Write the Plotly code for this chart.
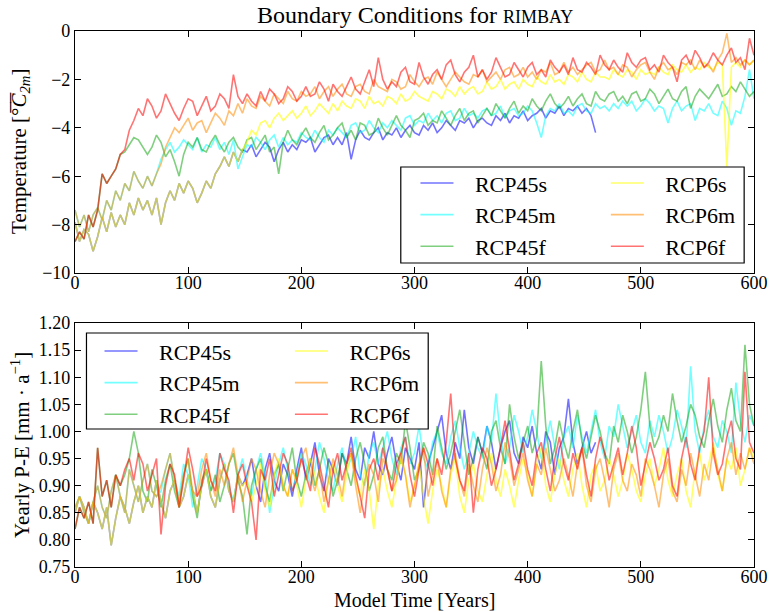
import plotly.graph_objects as go

STEP = 4  # years between stored samples

# ---------------- 2 m temperature (deg C) ----------------
# shared spin-up of the fast runs, years 0..40
t_spin_f = [-8.7, -8.3, -8.6, -7.6, -8.1, -7.4, -5.9, -6.3, -6.0, -5.7, -5.1]
# fast runs, years 44..600
t_6f_branch = [
    -4.9, -4.1, -3.7, -3.2, -3.5, -2.8, -3.1, -3.6, -3.3, -2.6,
    -3.0, -3.4, -3.7, -3.2, -2.8, -2.9, -3.5, -3.1, -2.7, -3.3,
    -3.1, -2.6, -2.8, -3.2, -1.8, -2.7, -3.0, -2.6, -2.9, -3.1,
    -2.5, -2.9, -2.4, -2.6, -3.0, -2.8, -2.3, -2.5, -2.9, -2.7,
    -2.3, -2.7, -2.6, -2.1, -2.4, -2.9, -2.2, -2.5, -2.7, -2.3,
    -1.9, -2.4, -2.6, -2.1, -1.6, -2.3, -1.1, -2.0, -2.4, -2.1,
    -2.3, -1.7, -1.5, -2.1, -2.2, -1.3, -1.9, -2.2, -1.8, -1.6,
    -2.0, -1.4, -1.2, -1.8, -2.1, -1.7, -1.5, -1.0, -1.9, -1.6,
    -2.0, -1.7, -1.1, -1.5, -1.9, -1.8, -1.3, -1.6, -1.9, -1.5,
    -1.3, -1.8, -1.6, -1.9, -1.2, -1.5, -1.7, -1.4, -1.8, -1.1,
    -1.6, -1.7, -1.3, -1.5, -1.8, -1.0, -1.4, -1.6, -1.2, -1.5,
    -1.7, -0.9, -1.3, -1.5, -1.2, -1.1, -1.6, -1.4, -1.7, -1.0,
    -1.3, -1.5, -2.1, -1.2, -1.0, -1.4, -0.8, -1.1, -1.5, -1.3,
    -0.9, -1.2, -1.4, -1.0, -0.7, -1.3, -1.1, -1.6, -0.3, -1.0,
]
t_45f_branch = [
    -5.0, -4.7, -4.4, -4.5, -4.8, -5.1, -4.8, -4.3, -4.6, -5.2,
    -4.9, -5.4, -6.0, -5.1, -4.6, -4.8, -4.4, -4.9, -5.0, -4.6,
    -4.3, -4.7, -5.0, -4.6, -4.4, -4.8, -5.0, -4.5, -4.4, -4.9,
    -4.6, -4.3, -5.0, -4.8, -5.9, -4.6, -4.1, -4.5, -4.7, -4.3,
    -4.0, -4.4, -4.6, -4.2, -3.9, -4.5, -4.3, -4.0, -3.8, -4.4,
    -4.1, -4.5, -3.8, -3.9, -4.3, -4.2, -3.6, -4.0, -4.3, -3.9,
    -3.5, -3.9, -4.1, -4.4, -3.7, -3.6, -3.4, -3.9, -3.7, -3.8,
    -3.3, -3.6, -3.9, -3.5, -3.2, -3.7, -3.4, -3.3, -3.8, -3.5,
    -3.2, -3.5, -3.0, -3.3, -3.6, -3.2, -2.9, -3.4, -3.1, -3.3,
    -2.8, -3.1, -3.3, -2.9, -2.6, -3.0, -3.2, -3.0, -2.7, -3.1,
    -2.8, -2.6, -3.0, -3.1, -2.5, -2.8, -2.9, -2.6, -2.5, -2.9,
    -2.7, -3.0, -2.6, -2.5, -2.9, -2.8, -2.4, -2.6, -3.0, -2.7,
    -2.4, -2.8, -2.9, -2.5, -2.3, -3.2, -2.7, -2.4, -2.6, -2.8,
    -2.5, -2.2, -2.7, -2.6, -2.3, -2.5, -2.1, -2.4, -2.7, -2.5,
]
# shared spin-up of the medium runs, years 0..72
t_spin_m = [-7.4, -8.1, -7.6, -8.3, -7.6, -7.3, -7.8, -7.0, -7.4, -6.6,
            -7.0, -6.3, -6.6, -5.8, -6.2, -6.5, -6.0, -6.4, -5.9]
# medium runs, years 76..600
t_6m_branch = [
    -5.5, -4.8, -4.4, -4.0, -4.2, -3.9, -3.6, -4.1, -3.8, -3.7,
    -4.2, -3.8, -3.4, -3.6, -3.9, -3.3, -3.5, -3.0, -3.4, -2.8,
    -3.1, -3.2, -2.7, -2.9, -3.1, -2.6, -2.8, -3.0, -2.5, -2.8,
    -2.9, -2.5, -2.7, -2.6, -2.3, -2.8, -2.5, -2.3, -2.7, -2.4,
    -2.2, -2.6, -2.7, -2.3, -2.2, -2.5, -2.6, -2.0, -2.3, -2.4,
    -2.5, -2.0, -2.1, -2.4, -2.3, -1.8, -2.1, -2.3, -2.0, -1.9,
    -2.2, -1.7, -2.0, -2.3, -2.0, -1.7, -1.9, -2.1, -2.2, -1.8,
    -1.9, -1.6, -2.1, -1.9, -1.7, -2.0, -1.6, -1.5, -1.9, -1.8,
    -1.5, -1.9, -1.7, -2.0, -1.6, -1.7, -1.3, -1.8, -1.7, -1.3,
    -1.7, -1.5, -1.8, -1.6, -1.4, -1.3, -1.7, -1.6, -1.2, -1.6,
    -1.5, -1.8, -1.4, -1.5, -1.9, -1.6, -1.4, -1.3, -1.7, -2.0,
    -1.5, -1.3, -1.6, -1.5, -1.8, -1.3, -1.4, -1.2, -1.6, -1.2,
    -1.5, -1.4, -1.7, -1.2, -0.9, -0.1, -1.3, -1.1, -1.4, -1.2,
    -1.4, -1.2,
]
t_45m_branch = [
    -5.3, -4.9, -4.6, -5.0, -4.8, -4.5, -4.7, -4.9, -4.4, -5.0,
    -4.7, -4.8, -4.4, -4.9, -4.6, -5.1, -4.5, -5.7, -5.2, -4.7,
    -4.8, -4.4, -4.6, -4.9, -4.5, -4.3, -4.8, -4.4, -4.7, -4.5,
    -4.6, -4.2, -4.4, -4.5, -4.1, -4.4, -4.6, -4.1, -4.3, -4.0,
    -4.2, -4.4, -3.9, -3.8, -4.2, -4.1, -3.7, -4.0, -4.2, -3.8,
    -4.0, -3.7, -3.9, -4.1, -3.6, -3.5, -3.9, -3.7, -3.8, -3.4,
    -3.7, -3.5, -3.8, -3.4, -3.3, -3.7, -3.6, -3.2, -3.5, -3.4,
    -3.6, -3.3, -3.2, -3.5, -3.4, -3.1, -3.6, -3.3, -3.2, -3.5,
    -3.4, -3.1, -3.3, -3.8, -4.4, -3.5, -3.2, -3.3, -3.0, -3.4,
    -3.3, -3.5, -3.1, -3.0, -3.3, -3.4, -3.0, -3.2, -3.1, -3.3,
    -3.0, -3.2, -2.9, -3.1, -2.9, -3.3, -3.1, -2.8, -3.0, -3.3,
    -3.1, -3.2, -3.8, -3.2, -2.9, -3.3, -3.1, -3.0, -3.7, -3.2,
    -3.3, -3.0, -3.4, -3.5, -2.9, -3.2, -3.9, -3.3, -3.4, -2.7,
    -1.6, -2.8,
]
# shared spin-up of the slow runs, years 0..148
t_spin_s = [
    -7.9, -8.7, -8.2, -8.4, -9.1, -8.5, -7.7, -8.3, -7.5, -8.1,
    -7.6, -8.0, -7.1, -7.6, -6.9, -7.4, -7.0, -7.6, -6.9, -8.0,
    -7.1, -6.6, -7.0, -6.3, -6.7, -6.2, -6.5, -7.1, -6.7, -6.2,
    -6.5, -5.9, -5.6, -5.2, -5.6, -5.0, -5.4, -4.9,
]
# slow RCP6 run, years 152..600
t_6s_branch = [
    -4.6, -4.1, -4.3, -3.8, -3.7, -4.0, -3.6, -3.4, -3.7, -3.5,
    -3.3, -3.6, -3.4, -3.1, -3.5, -3.3, -3.0, -3.2, -3.4, -3.0,
    -3.3, -2.9, -3.1, -3.2, -2.8, -2.9, -3.2, -2.7, -3.0, -2.9,
    -3.1, -2.7, -2.8, -3.0, -2.6, -2.9, -2.8, -2.5, -2.7, -2.8,
    -2.9, -2.5, -2.6, -2.8, -2.4, -2.5, -2.7, -2.3, -2.6, -2.4,
    -2.3, -2.6, -2.5, -2.1, -2.4, -2.3, -2.0, -2.4, -2.2, -2.1,
    -2.4, -2.0, -2.2, -2.3, -1.9, -2.1, -2.2, -1.8, -2.1, -2.0,
    -2.2, -1.8, -1.9, -2.1, -1.7, -2.0, -2.1, -1.7, -1.9, -1.9,
    -2.0, -1.6, -1.8, -1.9, -1.6, -1.7, -2.0, -1.6, -1.8, -1.7,
    -1.8, -1.5, -1.7, -1.8, -1.4, -1.6, -1.7, -1.4, -1.7, -1.5,
    -1.6, -1.3, -1.5, -1.6, -1.3, -1.4, -5.6, -1.5, -1.3, -1.5,
    -1.2, -1.4, -1.2,
]
# slow RCP4.5 run, years 152..460
t_45s_branch = [
    -5.0, -4.7, -5.2, -4.9, -4.6, -4.8, -5.4, -4.9, -4.6, -5.0,
    -4.7, -4.9, -4.5, -4.6, -4.4, -5.0, -4.7, -4.4, -4.3, -4.7,
    -4.4, -4.7, -4.2, -5.3, -4.5, -4.1, -4.4, -4.5, -4.2, -4.0,
    -4.5, -4.2, -4.3, -4.0, -4.4, -4.1, -3.9, -4.2, -4.3, -3.9,
    -4.1, -3.8, -4.2, -4.0, -3.7, -3.9, -4.1, -3.7, -3.8, -3.6,
    -4.0, -3.7, -3.6, -3.8, -3.9, -3.5, -3.7, -3.4, -3.8, -3.5,
    -3.6, -3.3, -3.7, -3.5, -3.4, -3.2, -3.6, -3.3, -3.4, -3.1,
    -3.5, -3.2, -3.3, -3.1, -3.4, -3.2, -3.5, -4.2,
]

# ---------------- yearly precipitation minus evaporation (mm/a) ----------------
pe_spin_f = [0.82, 0.86, 0.84, 0.87, 0.83, 0.97, 0.88, 0.91, 0.86, 0.92, 0.90]
pe_6f_branch = [
    0.93, 0.95, 0.91, 0.96, 0.94, 0.89, 0.92, 0.95, 0.81, 0.90,
    0.94, 0.92, 0.86, 0.91, 0.97, 0.93, 0.88, 0.90, 0.95, 0.91,
    0.89, 0.96, 0.93, 0.91, 0.85, 0.92, 0.94, 0.90, 0.87, 0.80,
    0.93, 0.91, 0.95, 0.88, 0.92, 0.96, 0.94, 0.89, 0.91, 0.95,
    0.92, 0.89, 0.97, 0.94, 0.90, 0.86, 0.93, 0.96, 0.91, 0.94,
    0.97, 0.92, 0.88, 0.84, 0.93, 0.95, 0.91, 0.97, 0.93, 0.89,
    0.94, 0.96, 0.99, 0.92, 0.88, 0.93, 0.97, 0.94, 0.90, 0.95,
    0.92, 0.98, 1.07, 0.95, 0.91, 0.89, 0.96, 0.85, 0.93, 0.97,
    0.95, 0.90, 0.93, 0.97, 1.02, 0.96, 0.91, 0.94, 0.98, 0.93,
    0.90, 0.96, 0.98, 0.93, 0.89, 0.95, 0.99, 0.94, 0.91, 0.96,
    0.93, 0.97, 0.92, 0.88, 0.95, 0.99, 0.96, 0.91, 0.94, 0.97,
    0.92, 0.96, 1.01, 0.97, 0.90, 0.94, 0.98, 0.95, 0.91, 0.93,
    0.97, 0.90, 0.88, 0.95, 0.99, 0.94, 0.91, 0.97, 1.00, 1.10,
    0.96, 0.92, 0.94, 0.99, 1.02, 0.95, 0.93, 1.11, 0.98, 0.96,
]
pe_45f_branch = [
    0.92, 0.95, 1.00, 0.96, 0.89, 0.87, 0.93, 0.90, 0.86, 0.91,
    0.94, 0.89, 0.86, 0.92, 0.95, 0.88, 0.84, 0.91, 0.93, 0.89,
    0.92, 0.87, 0.90, 0.94, 0.96, 0.91, 0.88, 0.81, 0.90, 0.93,
    0.95, 0.90, 0.87, 0.92, 0.94, 0.89, 0.93, 0.97, 0.91, 0.88,
    0.92, 0.95, 0.90, 0.93, 0.97, 0.94, 0.88, 0.91, 0.96, 0.93,
    0.90, 0.95, 0.98, 0.94, 0.89, 0.92, 0.97, 0.99, 0.93, 0.91,
    0.96, 0.94, 1.02, 0.97, 0.91, 0.93, 0.98, 0.96, 0.92, 1.01,
    0.97, 0.93, 0.96, 1.00, 1.04, 0.98, 0.92, 0.95, 0.99, 0.96,
    0.93, 1.00, 1.02, 0.97, 0.94, 1.05, 0.99, 0.95, 0.98, 1.01,
    0.96, 0.99, 1.13, 1.01, 0.94, 0.97, 1.02, 0.98, 0.95, 1.00,
    1.04, 0.98, 0.95, 0.99, 1.03, 1.00, 0.96, 0.94, 1.01, 0.98,
    1.03, 1.00, 0.96, 0.99, 1.04, 1.11, 1.01, 0.97, 0.99, 1.03,
    1.00, 1.07, 1.02, 0.98, 1.01, 1.05, 1.03, 0.99, 0.97, 1.02,
    1.06, 1.01, 0.98, 1.04, 1.08, 1.02, 1.00, 1.16, 1.05, 1.01,
]
pe_spin_m = [0.86, 0.88, 0.85, 0.83, 0.87, 0.90, 0.86, 0.84, 0.89, 0.92,
             0.88, 0.85, 0.93, 0.90, 0.87, 0.91, 0.94, 0.89, 0.88]
pe_6m_branch = [
    0.90, 0.93, 0.96, 0.91, 0.87, 0.92, 0.95, 0.89, 0.88, 0.93,
    0.96, 0.91, 0.88, 0.93, 0.90, 0.94, 0.97, 0.92, 0.87, 0.91,
    0.95, 0.93, 0.89, 0.86, 0.92, 0.96, 0.94, 0.90, 0.88, 0.93,
    0.91, 0.95, 0.97, 0.92, 0.89, 0.93, 0.87, 0.91, 0.95, 0.92,
    0.88, 0.94, 0.96, 0.90, 0.85, 0.91, 0.94, 0.92, 0.87, 0.95,
    0.93, 0.89, 0.91, 0.96, 0.92, 0.86, 0.90, 0.94, 0.97, 0.88,
    0.92, 0.95, 0.89, 0.86, 0.93, 0.96, 0.91, 0.88, 0.94, 0.90,
    0.87, 0.93, 0.97, 0.94, 0.89, 0.92, 0.98, 0.95, 0.90, 0.93,
    0.96, 0.91, 0.88, 0.94, 0.92, 0.97, 0.93, 0.89, 0.91, 0.95,
    0.92, 0.88, 0.94, 0.97, 0.90, 0.87, 0.93, 0.95, 0.91, 0.86,
    0.93, 0.96, 0.91, 0.89, 0.94, 0.92, 0.88, 0.95, 0.93, 0.90,
    0.86, 0.92, 0.95, 0.89, 0.87, 0.93, 0.90, 0.96, 0.92, 0.88,
    0.94, 0.91, 0.97, 0.93, 0.89, 0.95, 0.98, 0.92, 0.96, 0.93,
    0.97, 0.94,
]
pe_45m_branch = [
    0.89, 0.93, 0.96, 0.91, 0.88, 0.94, 0.92, 0.86, 0.90, 0.95,
    0.93, 0.89, 0.91, 0.96, 0.94, 0.90, 0.87, 0.92, 0.95, 0.91,
    0.88, 0.93, 0.96, 0.92, 0.85, 0.90, 0.94, 0.97, 0.93, 0.89,
    0.92, 0.96, 0.94, 0.90, 0.93, 0.98, 0.95, 0.91, 0.89, 0.94,
    0.97, 0.93, 0.95, 0.99, 0.92, 0.90, 0.96, 0.98, 0.94, 0.97,
    1.00, 0.95, 0.92, 0.97, 0.99, 0.94, 0.96, 1.01, 0.95, 0.93,
    0.98, 1.00, 0.96, 0.94, 0.99, 1.02, 0.97, 0.93, 0.96, 1.00,
    0.97, 0.95, 1.01, 0.98, 1.07, 0.99, 0.94, 0.97, 1.03, 1.00,
    0.96, 0.99, 1.04, 1.00, 0.95, 0.98, 1.02, 0.97, 0.93, 0.99,
    1.01, 0.97, 1.03, 0.99, 0.96, 1.00, 1.04, 0.98, 0.95, 1.01,
    0.99, 1.05, 1.01, 0.97, 1.00, 1.03, 0.98, 0.96, 1.02, 0.99,
    1.03, 1.00, 0.96, 0.99, 1.04, 1.01, 0.97, 1.12, 1.00, 0.96,
    1.01, 1.04, 0.99, 0.97, 1.02, 1.00, 0.96, 1.09, 1.02, 0.98,
    1.03, 1.01,
]
pe_spin_s = [
    0.85, 0.88, 0.86, 0.83, 0.87, 0.85, 0.82, 0.86, 0.79, 0.84,
    0.88, 0.86, 0.83, 0.87, 0.90, 0.85, 0.88, 0.86, 0.91, 0.87,
    0.84, 0.89, 0.91, 0.86, 0.88, 0.92, 0.89, 0.85, 0.90, 0.93,
    0.88, 0.86, 0.91, 0.94, 0.89, 0.87, 0.92, 0.90,
]
pe_6s_branch = [
    0.91, 0.87, 0.90, 0.94, 0.89, 0.86, 0.92, 0.95, 0.90, 0.88,
    0.93, 0.90, 0.86, 0.91, 0.95, 0.92, 0.88, 0.85, 0.91, 0.94,
    0.90, 0.87, 0.92, 0.96, 0.91, 0.88, 0.93, 0.89, 0.82, 0.90,
    0.93, 0.89, 0.86, 0.91, 0.95, 0.92, 0.87, 0.90, 0.94, 0.88,
    0.83, 0.89, 0.93, 0.90, 0.86, 0.92, 0.95, 0.88, 0.85, 0.91,
    0.94, 0.89, 0.87, 0.92, 0.96, 0.91, 0.88, 0.93, 0.90, 0.86,
    0.91, 0.95, 0.92, 0.88, 0.94, 0.97, 0.90, 0.87, 0.92, 0.95,
    0.91, 0.88, 0.93, 0.96, 0.90, 0.86, 0.92, 0.94, 0.89, 0.91,
    0.95, 0.92, 0.88, 0.91, 0.96, 0.93, 0.89, 0.87, 0.92, 0.95,
    0.90, 0.93, 0.97, 0.91, 0.88, 0.92, 0.95, 0.89, 0.86, 0.93,
    0.96, 0.91, 0.94, 0.98, 0.92, 0.89, 0.95, 0.93, 0.97, 0.90,
    0.93, 0.97, 0.95,
]
pe_45s_branch = [
    0.92, 0.95, 0.90, 0.87, 0.93, 0.96, 0.91, 0.89, 0.94, 0.92,
    0.88, 0.93, 0.97, 0.91, 0.94, 0.98, 0.92, 0.89, 0.95, 0.93,
    0.90, 0.96, 0.94, 0.99, 0.93, 0.91, 0.97, 0.95, 1.00, 0.94,
    0.92, 0.96, 0.99, 0.94, 0.91, 0.97, 0.95, 0.93, 0.98, 0.86,
    0.94, 0.97, 1.00, 1.03, 0.96, 0.93, 0.98, 0.95, 1.04, 0.97,
    0.94, 0.99, 0.96, 1.01, 0.98, 0.93, 0.97, 1.00, 1.02, 0.96,
    0.94, 0.99, 0.97, 1.01, 0.96, 0.93, 1.00, 0.98, 0.92, 0.97,
    0.99, 1.06, 0.98, 0.94, 0.97, 1.00, 0.96, 0.98,
]

scenarios = ["RCP45s", "RCP45m", "RCP45f", "RCP6s", "RCP6m", "RCP6f"]
colors = {
    "RCP45s": "rgba(0,0,255,0.55)",
    "RCP45m": "rgba(0,255,255,0.55)",
    "RCP45f": "rgba(0,160,0,0.5)",
    "RCP6s": "rgba(255,255,0,0.6)",
    "RCP6m": "rgba(255,140,0,0.55)",
    "RCP6f": "rgba(255,0,0,0.55)",
}
temperature = {
    "RCP45s": t_spin_s + t_45s_branch,
    "RCP45m": t_spin_m + t_45m_branch,
    "RCP45f": t_spin_f + t_45f_branch,
    "RCP6s": t_spin_s + t_6s_branch,
    "RCP6m": t_spin_m + t_6m_branch,
    "RCP6f": t_spin_f + t_6f_branch,
}
p_minus_e = {
    "RCP45s": pe_spin_s + pe_45s_branch,
    "RCP45m": pe_spin_m + pe_45m_branch,
    "RCP45f": pe_spin_f + pe_45f_branch,
    "RCP6s": pe_spin_s + pe_6s_branch,
    "RCP6m": pe_spin_m + pe_6m_branch,
    "RCP6f": pe_spin_f + pe_6f_branch,
}

PAD = "\u00a0\u00a0\u00a0"
FONT = "Liberation Serif, Times New Roman, serif"

fig = go.Figure()
for panel, data, xa, ya, legs in [
    (0, temperature, "x", "y", ("legend", "legend2")),
    (1, p_minus_e, "x2", "y2", ("legend3", "legend4")),
]:
    for name in scenarios:
        vals = data[name]
        fig.add_trace(go.Scatter(
            x=[STEP * i for i in range(len(vals))], y=vals,
            mode="lines", name=PAD + name,
            line=dict(color=colors[name], width=1.6),
            xaxis=xa, yaxis=ya,
            legend=legs[0] if name.startswith("RCP45") else legs[1],
            hoverinfo="skip",
        ))

axis_style = dict(
    showline=True, linecolor="black", linewidth=1.2, mirror="allticks",
    ticks="inside", ticklen=6, tickwidth=1, tickcolor="black",
    showgrid=False, zeroline=False,
    tickfont=dict(family=FONT, size=18, color="black"),
)
x_style = dict(axis_style, ticklabelstandoff=-7, ticklabeloverflow="allow")
y_style = dict(axis_style, ticklabelstandoff=0)

leg_style = dict(
    bgcolor="rgba(0,0,0,0)", borderwidth=0, itemwidth=33,
    font=dict(family=FONT, size=22, color="black"),
    xanchor="left", yanchor="top", orientation="v",
)

fig.update_layout(
    width=780, height=612,
    margin=dict(l=75, r=13, t=31, b=45),
    paper_bgcolor="white", plot_bgcolor="white",
    font=dict(family=FONT, color="black"),
    showlegend=True,
    xaxis=dict(x_style, domain=[0, 1], anchor="y", range=[0, 600], dtick=100),
    yaxis=dict(y_style, domain=[0.5485, 1], anchor="x", range=[-10, 0], dtick=2),
    xaxis2=dict(x_style, domain=[0, 1], anchor="y2", range=[0, 600], dtick=100),
    yaxis2=dict(y_style, domain=[0, 0.4552], anchor="x2", range=[0.75, 1.2],
                dtick=0.05, tickformat=".2f"),
    legend=dict(leg_style, x=0.5014, y=0.7552),
    legend2=dict(leg_style, x=0.7818, y=0.7552),
    legend3=dict(leg_style, x=0.0361, y=0.4418),
    legend4=dict(leg_style, x=0.3165, y=0.4418),
    shapes=[
        dict(type="rect", xref="x domain", yref="y domain",
             x0=0.4798, x1=0.9855, y0=0.0413, y1=0.438,
             fillcolor="white", line=dict(color="black", width=1.2), layer="above"),
        dict(type="rect", xref="x2 domain", yref="y2 domain",
             x0=0.0169, x1=0.5202, y0=0.5656, y1=0.959,
             fillcolor="white", line=dict(color="black", width=1.2), layer="above"),
    ],
    annotations=[
        dict(text="Boundary Conditions for <span style='font-size:18px'>RIMBAY</span>",
             xref="paper", yref="paper", x=0.5, y=1.0299,
             xanchor="center", yanchor="middle", showarrow=False,
             font=dict(family=FONT, size=24, color="black")),
        dict(text="Temperature [°\u0305<i>C\u0305</i><sub><i>2m</i></sub>]",
             xref="paper", yref="paper", x=-0.081, y=0.7743, textangle=-90,
             xanchor="center", yanchor="middle", showarrow=False,
             font=dict(family=FONT, size=21, color="black")),
        dict(text="Yearly P-E [mm · a<sup>−1</sup>]",
             xref="paper", yref="paper", x=-0.081, y=0.2276, textangle=-90,
             xanchor="center", yanchor="middle", showarrow=False,
             font=dict(family=FONT, size=21, color="black")),
        dict(text="Model Time [Years]",
             xref="paper", yref="paper", x=0.5, y=-0.0616,
             xanchor="center", yanchor="middle", showarrow=False,
             font=dict(family=FONT, size=20, color="black")),
    ],
)

fig.write_html("out.html")
